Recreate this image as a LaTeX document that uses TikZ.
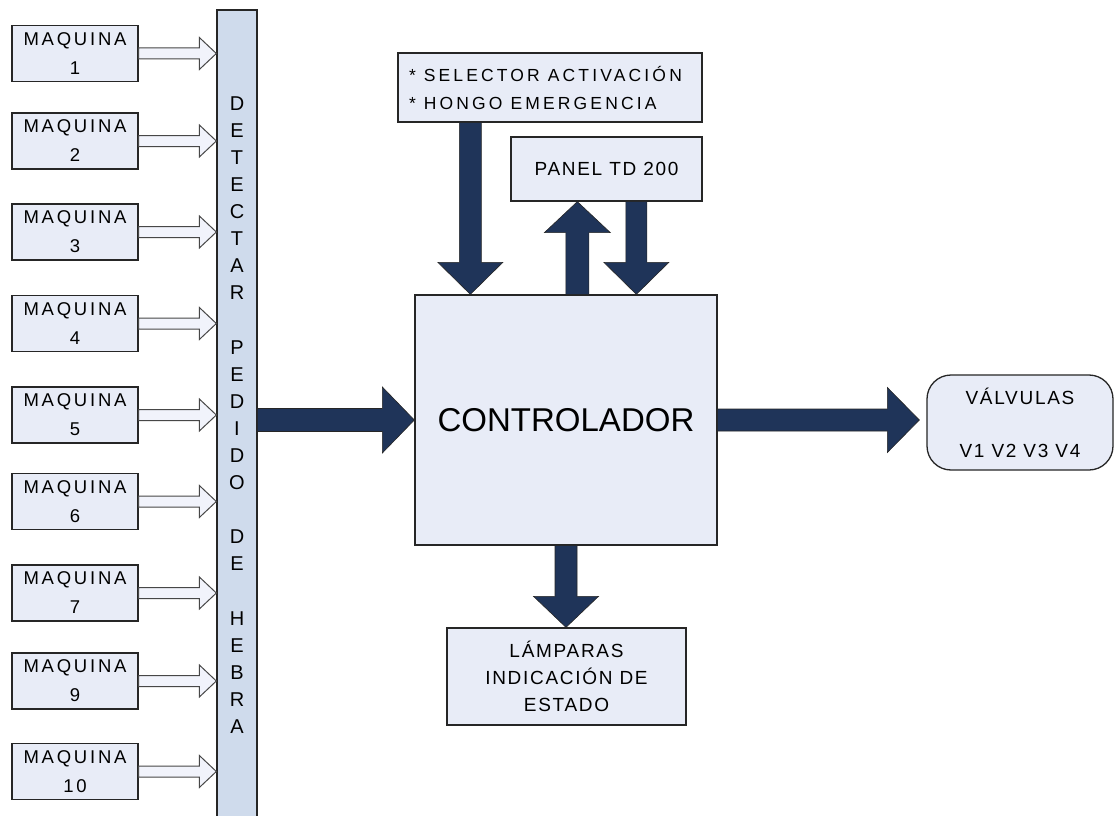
\documentclass[tikz,border=0pt]{standalone}
\usepackage{fontspec}
\setmainfont{Liberation Sans}
\usetikzlibrary{calc}
\definecolor{boxfill}{HTML}{E8ECF7}
\definecolor{barfill}{HTML}{CFDBEC}
\definecolor{navy}{HTML}{1F3459}
\definecolor{bordercol}{HTML}{262626}
\definecolor{hollowfill}{HTML}{F1F3FB}
\newcommand\blkarrow[6][]{%
  \coordinate (hb) at ($(#3)!#6!(#2)$);
  \filldraw[#1] ($(#2)!#4!90:(#3)$) -- ($(hb)!#4!-90:(#2)$) -- ($(hb)!#5!-90:(#2)$) -- (#3)
    -- ($(hb)!#5!90:(#2)$) -- ($(hb)!#4!90:(#2)$) -- ($(#2)!#4!-90:(#3)$) -- cycle;}
\begin{document}
\begin{tikzpicture}[x=1pt,y=-1pt,
  box/.style={draw=bordercol, line width=1.3pt, fill=boxfill, inner sep=0pt, align=center},
  mach/.style={box, minimum width=126pt, minimum height=56pt,
    font=\fontsize{18.5}{29}\selectfont\addfontfeature{LetterSpace=15}},
  lbl/.style={font=\fontsize{19}{27}\selectfont\addfontfeature{LetterSpace=9}},
  hollow/.style={fill=hollowfill, draw=bordercol!85, line width=1pt, line join=miter},
  bigarr/.style={fill=navy, draw=black!85, line width=0.6pt, line join=miter}]
\useasboundingbox (0,0) rectangle (1114,816);
\clip (0,0) rectangle (1114,816);
\fill[white] (0,0) rectangle (1114,816);

% detector bar
\node[box, fill=barfill, minimum width=40pt, minimum height=820pt] (bar) at (237,420) {};
\node[align=center, inner sep=0pt, font=\fontsize{20}{27.1}\selectfont\addfontfeature{LetterSpace=5}] (bartext) at (237,415)
  {D\\E\\T\\E\\C\\T\\A\\R\\\mbox{}\\P\\E\\D\\I\\D\\O\\\mbox{}\\D\\E\\\mbox{}\\H\\E\\B\\R\\A};

% machines
\node[mach] (m1) at (75,53.5) {MAQUINA\\1};
\node[mach] (m2) at (75,141) {MAQUINA\\2};
\node[mach] (m3) at (75,232) {MAQUINA\\3};
\node[mach] (m4) at (75,323.5) {MAQUINA\\4};
\node[mach] (m5) at (75,415) {MAQUINA\\5};
\node[mach] (m6) at (75,501.5) {MAQUINA\\6};
\node[mach] (m7) at (75,593) {MAQUINA\\7};
\node[mach] (m9) at (75,681) {MAQUINA\\9};
\node[mach] (m10) at (75,771.5) {MAQUINA\\10};
\foreach \i in {1,2,3,4,5,6,7,9,10}{
  \coordinate (t\i) at (m\i.east -| bar.west);
  \blkarrow[hollow]{m\i.east}{t\i}{5.5pt}{16pt}{17pt}
}

% controller and others
\node[box, minimum width=302pt, minimum height=250pt, font=\fontsize{33}{40}\selectfont] (ctl) at (566,420) {CONTROLADOR};
\node[box, minimum width=304pt, minimum height=69pt, align=left,
  font=\fontsize{17.5}{28}\selectfont\addfontfeature{LetterSpace=18}] (sel) at (550,87.5)
  {\makebox[282pt][l]{* SELECTOR ACTIVACIÓN}\\\makebox[282pt][l]{* HONGO EMERGENCIA}};
\node[box, lbl, minimum width=191pt, minimum height=64pt] (pan) at (606.5,169) {PANEL TD 200};
\node[box, lbl, minimum width=186pt, minimum height=95pt, rounded corners=24pt,
  font=\fontsize{19}{26.5}\selectfont\addfontfeature{LetterSpace=9}] (valv) at (1020,422.5)
  {VÁLVULAS\\\mbox{}\\V1 V2 V3 V4};
\node[box, lbl, minimum width=239pt, minimum height=97pt] (lamp) at (566.5,676.5)
  {LÁMPARAS\\INDICACIÓN DE\\ESTADO};

% big arrows
\coordinate (a1s) at (ctl.west -| bar.east);
\blkarrow[bigarr]{a1s}{ctl.west}{11.5pt}{33pt}{32pt}
\coordinate (a2e) at ([xshift=-7pt]valv.west |- ctl.east);
\blkarrow[bigarr]{ctl.east}{a2e}{11pt}{32.5pt}{32pt}
\coordinate (a3e) at ([xshift=56pt]ctl.north west);
\coordinate (a3s) at (a3e |- sel.south);
\blkarrow[bigarr]{a3s}{a3e}{11pt}{32.5pt}{32pt}
\coordinate (a4s) at ([xshift=163pt]ctl.north west);
\coordinate (a4e) at (a4s |- pan.south);
\blkarrow[bigarr]{a4s}{a4e}{11.5pt}{33pt}{31pt}
\coordinate (a5e) at ([xshift=222pt]ctl.north west);
\coordinate (a5s) at (a5e |- pan.south);
\blkarrow[bigarr]{a5s}{a5e}{10.5pt}{32.5pt}{32pt}
\coordinate (a6e) at (ctl.south |- lamp.north);
\blkarrow[bigarr]{ctl.south}{a6e}{11pt}{32.5pt}{31pt}
\end{tikzpicture}
\end{document}
